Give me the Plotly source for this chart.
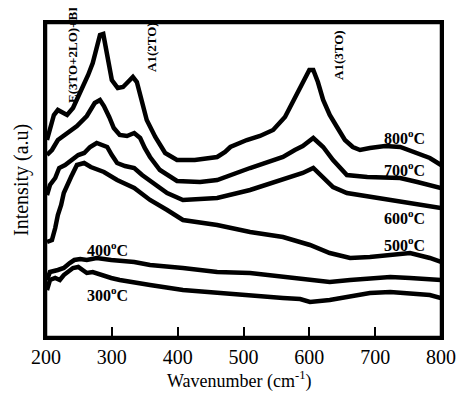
import plotly.graph_objects as go

# ---- data ----
wn_800 = [201.5, 206, 212, 218, 226, 232, 241, 249, 256, 264, 271, 277, 282, 287, 293, 300, 309, 317, 323, 332, 338, 343, 353, 366, 381, 399, 426, 460, 472, 480, 505, 525, 545, 563, 580, 592, 600, 606, 613, 621, 631, 642, 654, 666, 677, 692, 715, 738, 764, 783, 800]
int_800 = [197, 209, 222, 227, 224, 222, 229, 240, 250, 262, 274, 292, 302, 303, 282, 257, 249, 250, 254, 260, 255, 242, 217, 200, 184, 177, 177, 180, 185, 190, 197, 201, 207, 220, 242, 259, 267, 267, 255, 237, 222, 210, 197, 190, 187, 189, 191, 190, 184, 179, 172]

wn_700 = [201.5, 209, 218, 229, 238, 247, 262, 274, 282, 288, 296, 303, 312, 323, 334, 343, 350, 358, 373, 399, 434, 460, 510, 560, 578, 590, 606, 621, 636, 657, 688, 738, 764, 800]
int_700 = [182, 187, 197, 202, 207, 211, 221, 234, 237, 231, 220, 209, 202, 201, 204, 199, 189, 180, 167, 156, 155, 157, 169, 180, 187, 191, 199, 190, 177, 162, 160, 159, 155, 149]

wn_600 = [201.5, 206, 214, 220, 229, 239, 249, 258, 267, 277, 285, 293, 300, 308, 320, 334, 346, 358, 384, 408, 460, 510, 560, 578, 590, 606, 621, 636, 657, 697, 738, 800]
int_600 = [142, 152, 159, 169, 172, 177, 182, 184, 190, 194, 192, 190, 182, 174, 171, 169, 162, 156, 144, 137, 139, 147, 157, 161, 164, 169, 160, 150, 144, 140, 135, 129]

wn_500 = [201.5, 209, 214, 218, 223, 227, 238, 247, 258, 268, 288, 308, 334, 358, 384, 408, 460, 510, 560, 586, 601, 631, 662, 692, 723, 753, 783, 800]
int_500 = [95, 97, 109, 122, 132, 144, 160, 172, 174, 170, 165, 157, 149, 137, 127, 117, 112, 105, 100, 95, 92, 84, 79, 80, 82, 84, 79, 75]

wn_400 = [201.5, 206, 218, 227, 236, 243, 252, 262, 277, 299, 334, 358, 408, 460, 510, 560, 586, 631, 662, 692, 723, 753, 800]
int_400 = [57, 65, 67, 69, 74, 77, 78, 77, 79, 77, 75, 72, 69, 65, 64, 60, 59, 55, 57, 59, 60, 59, 57]

wn_300 = [201.5, 206, 214, 221, 227, 233, 241, 249, 256, 262, 271, 284, 299, 312, 334, 358, 408, 460, 510, 560, 586, 601, 631, 662, 692, 723, 753, 783, 800]
int_300 = [47, 57, 59, 57, 62, 65, 69, 70, 67, 64, 65, 62, 59, 57, 55, 52, 47, 44, 42, 39, 38, 35, 37, 40, 44, 45, 44, 42, 39]

x_ticks = [200, 300, 400, 500, 600, 700, 800]

series = [
    ("800", wn_800, int_800),
    ("700", wn_700, int_700),
    ("600", wn_600, int_600),
    ("500", wn_500, int_500),
    ("400", wn_400, int_400),
    ("300", wn_300, int_300),
]

# label positions (wavenumber, intensity)
label_pos = {
    "800": (745, 200),
    "700": (745, 168),
    "600": (745, 120),
    "500": (745, 93),
    "400": (294, 88),
    "300": (294, 43),
}

modes = [
    ("E(3TO+2LO)+BI", 239.5, 282),
    ("A1(2TO)", 359.5, 290),
    ("A1(3TO)", 643.5, 282),
]

FONT = "Liberation Serif, Times New Roman, serif"

fig = go.Figure()
for name, x, y in series:
    fig.add_trace(go.Scatter(x=x, y=y, mode="lines", name=name + " C",
                             line=dict(color="black", width=4.5),
                             showlegend=False, cliponaxis=False))

for name, (lx, ly) in label_pos.items():
    fig.add_annotation(x=lx, y=ly, text=f"<b>{name}<sup>o</sup>C</b>",
                       showarrow=False, font=dict(family=FONT, size=16, color="black"),
                       xanchor="center", yanchor="middle")

for txt, mx, my in modes:
    fig.add_annotation(x=mx, y=my, text=f"<b>{txt}</b>", textangle=-90,
                       showarrow=False, font=dict(family=FONT, size=13, color="black"),
                       xanchor="center", yanchor="middle")

# axis titles as annotations for exact placement
fig.add_annotation(x=0.49, y=0, xref="paper", yref="paper", yshift=-43,
                   text="Wavenumber (cm<sup>-1</sup>)", showarrow=False,
                   font=dict(family=FONT, size=18, color="black"),
                   xanchor="center", yanchor="middle")
fig.add_annotation(x=0, y=0.5, xref="paper", yref="paper", xshift=-25,
                   text="Intensity (a.u)", showarrow=False, textangle=-90,
                   font=dict(family=FONT, size=20, color="black"),
                   xanchor="center", yanchor="middle")

# frame
fig.add_shape(type="rect", xref="paper", yref="paper", x0=0, y0=0, x1=1, y1=1,
              line=dict(color="#000000", width=2.5), layer="above")

# the page body adds an 8px margin, so the figure is sized/margined to compensate
fig.update_layout(
    width=456, height=385,
    margin=dict(l=38, r=23, t=15, b=56),
    paper_bgcolor="white", plot_bgcolor="white",
    font=dict(family=FONT, color="black"),
    xaxis=dict(range=[200, 800], tickvals=x_ticks, ticks="inside", ticklen=10,
               tickwidth=1.5, tickcolor="#000000", showline=True, linecolor="#000000",
               linewidth=2.5, mirror=True, showgrid=False, zeroline=False,
               automargin=False,
               tickfont=dict(family=FONT, size=20, color="black")),
    yaxis=dict(range=[0, 314], showticklabels=False, ticks="", showline=True,
               linecolor="#000000", linewidth=2.5, mirror=True, showgrid=False,
               zeroline=False, automargin=False),
)

fig.write_html("out.html")
